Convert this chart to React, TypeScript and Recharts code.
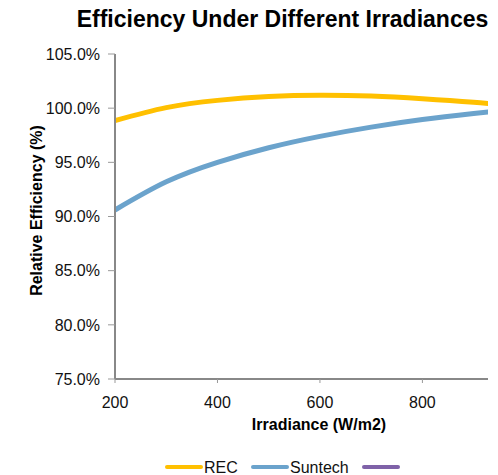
import React from "react";
import { LineChart, Line, XAxis, YAxis } from "recharts";

const irradiance = [200, 300, 400, 500, 600, 700, 800, 900, 1000];
const recValues = [98.85, 100.05, 100.72, 101.08, 101.2, 101.12, 100.88, 100.55, 100.12];
const suntechValues = [90.6, 93.2, 95.0, 96.35, 97.4, 98.25, 98.95, 99.5, 100.0];
const xTicks = [200, 400, 600, 800];
const yTicks = [75, 80, 85, 90, 95, 100, 105];

const title = "Efficiency Under Different Irradiances";
const xTitle = "Irradiance (W/m2)";
const yTitle = "Relative Efficiency (%)";
const seriesNames = ["REC", "Suntech", ""];
const seriesColors = ["#FFC000", "#6BA3CC", "#7F62A8"];

const data = irradiance.map((x, i) => ({ x, rec: recValues[i], suntech: suntechValues[i] }));

const FONT = "'Liberation Sans', Arial, Helvetica, sans-serif";

export default function App() {
  return (
    <div style={{ position: "absolute", left: 0, top: 0, width: 498, height: 475, background: "#fff" }}>
      <LineChart
        width={498}
        height={475}
        data={data}
        margin={{ top: 54, right: 10, left: 15, bottom: 66 }}
        style={{ fontFamily: FONT }}
      >
        <XAxis
          dataKey="x"
          type="number"
          domain={[200, 928]}
          allowDataOverflow
          ticks={xTicks}
          height={30}
          tickSize={4}
          tickMargin={14}
          axisLine={{ stroke: "#888", strokeWidth: 2 }}
          tickLine={{ stroke: "#999" }}
          tick={{ fill: "#111", fontSize: 16, fontFamily: FONT }}
        />
        <YAxis
          type="number"
          domain={[75, 105]}
          ticks={yTicks}
          width={100}
          tickSize={7}
          tickMargin={8}
          axisLine={{ stroke: "#888", strokeWidth: 2 }}
          tickLine={{ stroke: "#999" }}
          tick={{ fill: "#111", fontSize: 16, fontFamily: FONT }}
          tickFormatter={(v: number) => v.toFixed(1) + "%"}
        />
        <Line
          dataKey="rec"
          name={seriesNames[0]}
          type="natural"
          stroke={seriesColors[0]}
          strokeWidth={5}
          dot={false}
          isAnimationActive={false}
        />
        <Line
          dataKey="suntech"
          name={seriesNames[1]}
          type="natural"
          stroke={seriesColors[1]}
          strokeWidth={5}
          dot={false}
          isAnimationActive={false}
        />
      </LineChart>
      <svg
        width={498}
        height={475}
        style={{ position: "absolute", left: 0, top: 0, pointerEvents: "none", fontFamily: FONT }}
      >
        <text x={282.5} y={27} textAnchor="middle" fontSize={23} fontWeight="bold" fill="#000">
          {title}
        </text>
        <text x={319} y={430} textAnchor="middle" fontSize={16} fontWeight="bold" fill="#000">
          {xTitle}
        </text>
        <text
          transform="translate(42,210.5) rotate(-90)"
          textAnchor="middle"
          fontSize={16}
          fontWeight="bold"
          fill="#000"
        >
          {yTitle}
        </text>
        {[166, 252, 363].map((lx, i) => (
          <g key={i}>
            <line x1={lx + 1} x2={lx + 35} y1={467} y2={467} stroke={seriesColors[i]} strokeWidth={4} strokeLinecap="round" />
            <text x={lx + 38} y={473} fontSize={16} fill="#111">
              {seriesNames[i]}
            </text>
          </g>
        ))}
      </svg>
    </div>
  );
}
